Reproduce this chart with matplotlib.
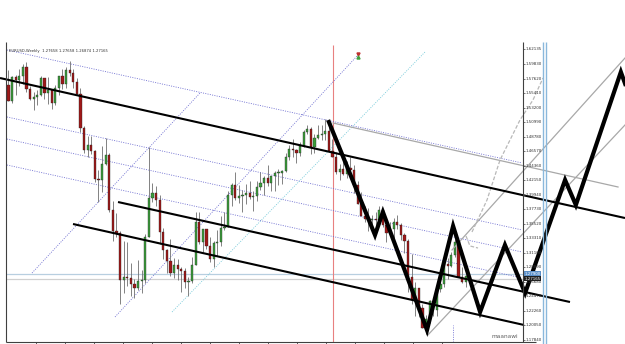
import matplotlib
matplotlib.use("Agg")
import matplotlib.pyplot as plt

# ---------------- data (EURUSD weekly) ----------------
opens = [1.5670,1.5430,1.5785,1.5740,1.5810,1.5940,1.5615,1.5460,1.5480,1.5520,1.5770,1.5550,1.5590,1.5390,1.5630,1.5800,
         1.5690,1.5900,1.5860,1.5710,1.5530,1.5010,1.4680,1.4760,1.4670,1.4240,1.4220,1.4470,1.4600,1.3770,1.3450,1.3410,
         1.2700,1.2740,1.2730,1.2640,1.2580,1.2690,1.2700,1.3350,1.3950,1.4030,1.3920,1.3430,1.3160,1.2990,1.2800,1.2920,
         1.2870,1.2830,1.2670,1.2690,1.2920,1.3580,1.3280,1.3470,1.3220,1.3020,1.3260,1.3280,1.3490,1.3510,1.4000,1.4150,
         1.3950,1.3980,1.4000,1.4020,1.3970,1.3980,1.4120,1.4170,1.4260,1.4180,1.4280,1.4330,1.4330,1.4360,1.4580,1.4690,
         1.4680,1.4630,1.4740,1.4950,1.5000,1.4720,1.4860,1.4910,1.4930,1.4970,1.4670,1.4580,1.4350,1.4390,1.4320,1.4410,
         1.4380,1.4140,1.3860,1.3680,1.3630,1.3620,1.3630,1.3620,1.3770,1.3530,1.3420,1.3470,1.3590,1.3530,1.3390,1.3300,
         1.2750,1.2390,1.2570,1.2270,1.1970,1.2100,1.2380,1.2240,1.2560,1.2640,1.2940,1.2910,1.3080,1.3280,1.2750,1.2670,
         1.27658]
highs = [1.5905,1.5815,1.5830,1.5915,1.5985,1.6020,1.5660,1.5570,1.5590,1.5805,1.5775,1.5785,1.5590,1.5670,1.5810,1.5915,
         1.5950,1.6038,1.5920,1.5780,1.5620,1.5040,1.4900,1.4900,1.4680,1.4380,1.4740,1.4870,1.4640,1.3900,1.3720,1.3440,
         1.3300,1.3270,1.2950,1.2720,1.3000,1.2850,1.3400,1.4720,1.4170,1.4130,1.3990,1.3490,1.3170,1.3320,1.3030,1.3020,
         1.2900,1.2880,1.2740,1.3050,1.3740,1.3740,1.3480,1.3480,1.3350,1.3290,1.3460,1.3670,1.3740,1.4050,1.4180,1.4340,
         1.4150,1.4070,1.4160,1.4200,1.4060,1.4200,1.4340,1.4290,1.4450,1.4290,1.4360,1.4390,1.4380,1.4630,1.4760,1.4840,
         1.4690,1.4800,1.4980,1.5060,1.5030,1.4930,1.5060,1.5060,1.5145,1.5100,1.4850,1.4650,1.4470,1.4580,1.4510,1.4580,
         1.4450,1.4200,1.4040,1.3830,1.3790,1.3690,1.3740,1.3820,1.3780,1.3650,1.3590,1.3650,1.3690,1.3560,1.3420,1.3320,
         1.3090,1.2670,1.2570,1.2330,1.2160,1.2400,1.2410,1.2580,1.2720,1.2980,1.3030,1.3120,1.3330,1.3290,1.2900,1.2770,
         1.27658]
lows = [1.5420,1.5400,1.5525,1.5650,1.5690,1.5560,1.5440,1.5285,1.5370,1.5500,1.5460,1.5380,1.5300,1.5360,1.5520,1.5610,
        1.5620,1.5800,1.5620,1.5520,1.4960,1.4640,1.4580,1.4620,1.4190,1.3880,1.4040,1.4450,1.3730,1.3300,1.3350,1.2330,
        1.2500,1.2600,1.2450,1.2420,1.2550,1.2500,1.2660,1.3350,1.3890,1.3830,1.3250,1.3020,1.2800,1.2760,1.2730,1.2700,
        1.2510,1.2570,1.2460,1.2660,1.2920,1.3250,1.3120,1.3170,1.2970,1.2890,1.3060,1.3220,1.3460,1.3510,1.3830,1.3920,
        1.3870,1.3740,1.3860,1.3930,1.3750,1.3900,1.4070,1.4000,1.4130,1.4050,1.4050,1.4140,1.4160,1.4340,1.4530,1.4580,
        1.4480,1.4590,1.4730,1.4920,1.4620,1.4630,1.4840,1.4830,1.4830,1.4650,1.4580,1.4310,1.4220,1.4300,1.4260,1.4350,
        1.4030,1.3860,1.3670,1.3580,1.3440,1.3450,1.3490,1.3590,1.3500,1.3270,1.3380,1.3340,1.3480,1.3310,1.3110,1.2520,
        1.2340,1.2150,1.2140,1.1960,1.1880,1.2040,1.2150,1.2150,1.2510,1.2590,1.2710,1.2900,1.3050,1.2740,1.2660,1.2590,
        1.26874]
closes = [1.5430,1.5785,1.5745,1.5810,1.5940,1.5610,1.5460,1.5480,1.5520,1.5770,1.5550,1.5590,1.5390,1.5630,1.5800,1.5690,
          1.5900,1.5860,1.5710,1.5530,1.5010,1.4680,1.4760,1.4670,1.4240,1.4220,1.4470,1.4600,1.3770,1.3450,1.3410,1.2700,
          1.2740,1.2730,1.2640,1.2580,1.2690,1.2700,1.3350,1.3950,1.4030,1.3920,1.3430,1.3160,1.2990,1.2800,1.2920,1.2870,
          1.2830,1.2670,1.2690,1.2920,1.3580,1.3280,1.3470,1.3220,1.3020,1.3260,1.3280,1.3490,1.3510,1.4000,1.4150,1.3950,
          1.3980,1.4000,1.4020,1.3970,1.3980,1.4120,1.4170,1.4260,1.4180,1.4280,1.4330,1.4330,1.4360,1.4580,1.4690,1.4680,
          1.4630,1.4740,1.4950,1.5000,1.4720,1.4860,1.4910,1.4930,1.4970,1.4670,1.4580,1.4350,1.4390,1.4320,1.4410,1.4380,
          1.4140,1.3860,1.3680,1.3630,1.3620,1.3630,1.3620,1.3770,1.3530,1.3420,1.3470,1.3590,1.3530,1.3390,1.3300,1.2750,
          1.2390,1.2570,1.2270,1.1970,1.2100,1.2380,1.2240,1.2560,1.2640,1.2940,1.2910,1.3080,1.3280,1.2750,1.2670,1.2760,
          1.27165]

title_text = "EURUSD,Weekly  1.27658 1.27658 1.26874 1.27165"
price_labels = ["1.62135","1.59830","1.57620","1.55410","1.53200","1.50990","1.48780","1.46570","1.44360","1.42150",
                "1.39940","1.37730","1.35520","1.33310","1.31100","1.28890","1.26680","1.24470","1.22260","1.20050","1.17840"]
price_levels = [1.62135,1.5983,1.5762,1.5541,1.5320,1.5099,1.4878,1.4657,1.4436,1.4215,
                1.3994,1.3773,1.3552,1.3331,1.3110,1.2889,1.2668,1.2447,1.2226,1.2005,1.1784]

# drawn objects: (bar index, price)
zigzag_x = [89.0,101.8,104.0,116.25,123.5,131.0,137.9,143.5,154.6,157.6,170.1,171.3]
zigzag_y = [1.5107,1.3384,1.3735,1.1936,1.3521,1.2211,1.3232,1.2500,1.4223,1.3842,1.5869,1.5686]

trend_x = [[-2.36,171.25],[30.42,155.97],[17.92,143.19]]
trend_y = [[1.5777,1.3643],[1.3887,1.2363],[1.3552,1.2013]]

gray_x = [[90.14,169.31],[123.2,171.25],[116.5,171.25]]
gray_y = [[1.5091,1.4116],[1.3156,1.6082],[1.1860,1.5061]]

curve_x = [128.75,132.92,136.53,142.08,145.69,148.47]
curve_y = [1.3430,1.3918,1.4527,1.5137,1.5442,1.5777]
scribble_x = [127.08,128.19,130.42]
scribble_y = [1.3369,1.3217,1.3186]

dot_par_x = [-0.42,142.64]
dot_par_y = [[1.6204,1.4482],[1.5183,1.3461],[1.4847,1.3125],[1.4451,1.2729]]

dot_diag_x = [[6.53,53.19],[29.58,97.08]]
dot_diag_y = [[1.2805,1.5548],[1.2135,1.6128]]
cyan_x = [45.42,115.69]
cyan_y = [1.2211,1.6173]

hlines_price = [1.2790,1.27165]
red_vline_bar = 90.14
time_ticks = [7.6,15.7,23.7,31.8,39.9,47.9,56.0,64.0,72.1,80.1,88.2,96.3,104.3,112.4,120.4]

# ---------------- figure ----------------
W, H = 625, 344
fig = plt.figure(figsize=(W/100, H/100), dpi=100)
ax = fig.add_axes([0, 0, 1, 1])
x_lo, x_hi = -2.3611, 171.25
y_lo, y_hi = 1.17230, 1.69659
ax.set_xlim(x_lo, x_hi)
ax.set_ylim(y_lo, y_hi)
ax.axis('off')

axis_bar = 142.9
bottom_p = 1.17535
top_p = 1.6280
left_bar = -0.56

dots = (0, (1.2, 1.6))

# light horizontal lines
ax.hlines(hlines_price[0], left_bar, axis_bar, color='#b8cfe0', lw=0.9, zorder=1)
ax.hlines(hlines_price[1], left_bar, axis_bar, color='#d0d0d0', lw=0.9, zorder=1)

# red vertical line
ax.vlines(red_vline_bar, bottom_p, top_p, color='#e88080', lw=0.8, zorder=1)

# dotted lines
for ys in dot_par_y:
    ax.plot(dot_par_x, ys, color='#6b6bd0', lw=0.6, ls=dots, zorder=2)
for xs, ys in zip(dot_diag_x, dot_diag_y):
    ax.plot(xs, ys, color='#6b6bd0', lw=0.6, ls=dots, zorder=2)
ax.plot(cyan_x, cyan_y, color='#70c8d8', lw=0.6, ls=dots, zorder=2)
ax.vlines(123.5, bottom_p, 1.2013, color='#6b6bd0', lw=0.6, ls=dots, zorder=2)

# candles
bull = '#3c9e3c'
bear = '#a01818'
for i, (o, h, l, c) in enumerate(zip(opens, highs, lows, closes)):
    ax.vlines(i, l, h, color='#6e6e6e', lw=0.6, zorder=3)
    col = bull if c >= o else bear
    ax.bar(i, max(abs(c - o), 0.0008), bottom=min(o, c), width=0.62,
           color=col, edgecolor='#202020', linewidth=0.25, zorder=4)

# gray lines
for xs, ys in zip(gray_x, gray_y):
    ax.plot(xs, ys, color='#a8a8a8', lw=0.9, zorder=5)
ax.plot(curve_x, curve_y, color='#b8b8b8', lw=0.9, ls=(0, (3, 1.5)), zorder=5)
ax.plot(scribble_x, scribble_y, color='#b8b8b8', lw=0.9, ls=(0, (3, 1.5)), zorder=5)

# black trend lines
for xs, ys in zip(trend_x, trend_y):
    ax.plot(xs, ys, color='black', lw=1.5, zorder=6, solid_capstyle='butt')

# zigzag
ax.plot(zigzag_x, zigzag_y, color='black', lw=3.0, zorder=7, solid_joinstyle='miter')

# chart frame
ax.vlines(left_bar, bottom_p, 1.632, color='#404040', lw=0.8, zorder=8)
ax.hlines(bottom_p, left_bar, axis_bar + 3.7, color='#404040', lw=0.8, zorder=8)
ax.vlines(axis_bar, bottom_p, 1.632, color='#404040', lw=0.8, zorder=8)
for t in time_ticks:
    ax.vlines(t, y_lo, bottom_p, color='#404040', lw=0.6, zorder=8)
for p, lab in zip(price_levels, price_labels):
    ax.hlines(p, axis_bar, axis_bar + 0.5, color='#404040', lw=0.5, zorder=8)
    ax.text(axis_bar + 0.7, p, lab, fontsize=2.9, va='center', ha='left', color='#303030', zorder=9)

# blue scroll strip
ax.vlines([148.6, 149.35], y_lo, 1.632, color='#8ab8dc', lw=1.0, zorder=8)

# price boxes
ax.text(axis_bar + 0.4, 1.2790, "1.27900", fontsize=2.9, va='center', ha='left', color='white',
        bbox=dict(boxstyle='square,pad=0.15', fc='#5b8fc8', ec='none'), zorder=10)
ax.text(axis_bar + 0.4, 1.27165, "1.27165", fontsize=2.9, va='center', ha='left', color='white',
        bbox=dict(boxstyle='square,pad=0.15', fc='#202020', ec='none'), zorder=10)

# title and signature
ax.text(0.2, 1.6185, title_text, fontsize=2.7, va='center', ha='left', color='#303030', zorder=9)
ax.text(141.5, 1.1835, "maanawi", fontsize=4.2, va='center', ha='right', color='#606060', zorder=9)

# small arrow marker
ax.plot([97.1], [1.6140], marker='v', ms=2.2, color='#c03030', zorder=9)
ax.plot([97.1], [1.6095], marker='^', ms=2.2, color='#40a040', zorder=9)

fig.savefig("out.png", dpi=100)
